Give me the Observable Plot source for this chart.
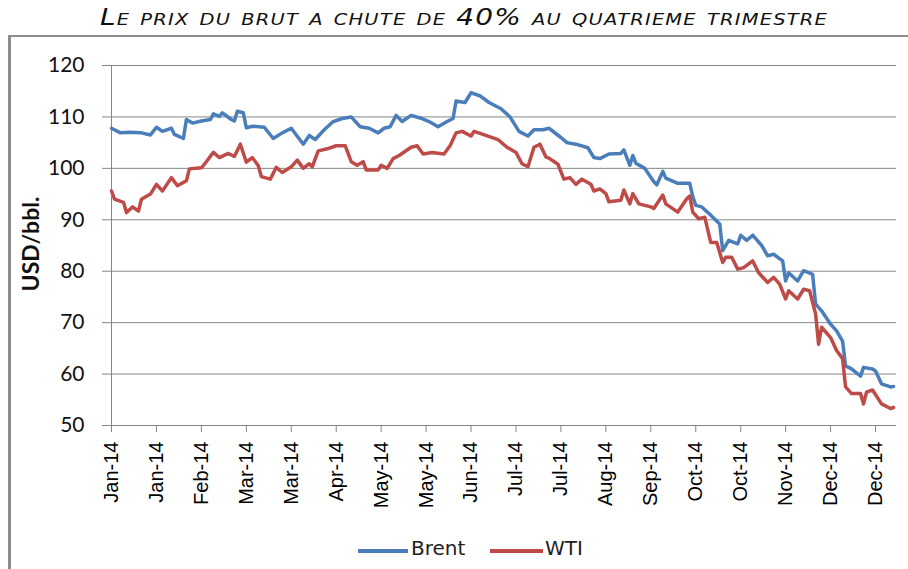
<!DOCTYPE html>
<html><head><meta charset="utf-8">
<script src="https://cdn.jsdelivr.net/npm/d3@7"></script>
<script src="https://cdn.jsdelivr.net/npm/@observablehq/plot@0.6"></script>
<style>
body{margin:0;background:#fff;}
#wrap{position:relative;width:908px;height:569px;overflow:hidden;background:#fff;}
#frame{position:absolute;left:8px;top:35px;width:1000px;height:1000px;border-left:3px solid #8c8c8c;border-top:2px solid #8c8c8c;}
#chart{position:absolute;left:0;top:0;}
#title{position:absolute;left:100px;top:4px;font-family:"DejaVu Sans";font-style:italic;font-variant:small-caps;font-size:23px;letter-spacing:1px;color:#111;white-space:nowrap;transform-origin:0 0;}
#ylab{position:absolute;left:30px;top:244px;transform:translate(-50%,-50%) rotate(-90deg);font-family:Lato;font-weight:bold;font-size:23px;color:#111;white-space:nowrap;}
.lg{position:absolute;font-family:"DejaVu Sans";font-size:20px;color:#222;top:536px;}
.sw{position:absolute;height:4px;top:549px;}
</style>
</head><body>
<div id="wrap">
  <div id="frame"></div>
  <div id="chart"></div>
  <div id="title">Le prix du brut a chute de 40% au quatrieme trimestre</div>
  <div id="ylab">USD/bbl.</div>
  <div class="sw" style="left:358px;width:50px;background:#4a7ebb"></div>
  <div class="lg" style="left:411px">Brent</div>
  <div class="sw" style="left:490px;width:53px;background:#be4b48"></div>
  <div class="lg" style="left:545px">WTI</div>
</div>
<script>
// trading-day index (category position) and price
const brentDay = [0,3,6,10,13,15,17,20,21,24,25,27,30,33,34,36,37,40,41,42,44,45,47,51,54,57,60,64,66,68,71,74,77,80,83,86,89,91,93,95,97,100,103,106,109,112,114,115,118,120,123,126,130,133,136,139,141,144,146,150,152,155,159,161,163,166,170,171,173,174,175,178,181,182,184,185,189,193,194,195,197,200,203,204,206,209,210,212,214,217,219,221,224,225,226,229,231,234,235,237,240,242,244,245,247,250,251,254,255,257,260,261];
const brentPrice = [107.8,106.9,107.0,106.9,106.5,108.0,107.2,107.8,106.6,105.8,109.5,108.8,109.2,109.5,110.6,110.1,110.8,109.5,109.2,111.1,110.8,107.9,108.2,108.0,105.8,106.9,107.8,104.7,106.4,105.6,107.5,109.1,109.7,110.0,108.1,107.8,106.9,107.8,108.1,110.3,109.1,110.3,109.8,109.1,108.1,109.1,109.7,113.1,112.8,114.7,114.1,112.8,111.6,110.0,107.2,106.3,107.5,107.5,107.8,106.0,105.0,104.7,104.0,102.1,101.9,102.8,102.9,103.6,100.6,102.5,101.0,100.0,97.4,96.8,99.4,98.1,97.1,97.1,94.5,92.8,92.5,90.9,89.2,84.0,86.0,85.3,87.0,86.0,87.0,85.0,83.0,83.3,82.0,78.1,79.7,78.1,80.1,79.4,73.6,72.3,69.7,68.4,66.4,61.6,61.0,59.6,61.3,61.0,60.6,58.1,57.5,57.6];
const wtiDay = [0,1,4,5,7,9,10,13,15,17,20,22,25,26,30,31,34,36,39,41,43,45,47,49,50,53,55,57,60,62,64,66,67,69,72,75,78,80,82,84,85,89,90,92,94,96,100,102,104,107,111,113,115,117,120,121,124,129,132,135,137,139,141,143,145,146,149,151,153,155,157,160,161,163,165,166,170,171,173,174,176,180,181,184,185,189,192,193,194,196,198,200,202,204,205,207,209,211,214,216,219,221,223,225,226,229,231,233,235,236,237,240,242,244,245,247,250,251,252,254,257,260,261];
const wtiPrice = [95.6,94.0,93.4,91.4,92.5,91.7,94.0,95.0,96.9,95.6,98.2,96.6,97.6,99.9,100.1,100.8,103.1,102.1,102.9,102.3,104.7,101.2,102.1,100.5,98.4,97.9,100.2,99.2,100.3,101.6,100.0,100.9,100.3,103.4,103.8,104.4,104.4,101.3,100.6,101.3,99.7,99.7,100.6,100.0,101.9,102.5,104.1,104.4,102.8,103.1,102.8,104.4,106.9,107.2,106.3,107.2,106.6,105.6,104.1,103.1,100.9,100.3,104.1,104.7,102.2,102.0,100.8,97.9,98.2,96.9,97.9,96.9,95.6,96.0,95.1,93.5,93.8,95.8,93.1,95.1,93.1,92.5,92.2,94.8,93.1,91.5,94.1,94.6,91.5,90.2,90.5,85.6,85.6,81.7,82.7,82.7,80.4,80.7,82.0,79.7,77.8,78.8,77.5,74.6,76.2,74.6,76.5,76.2,71.7,65.8,69.1,67.1,64.6,63.0,57.5,56.2,56.2,54.2,56.5,56.9,54.2,53.3,53.5];
const tickPos = [0,15,30,45,60,75,90,105,120,135,150,165,180,195,210,225,240,255];
const tickLabels = ["Jan-14","Jan-14","Feb-14","Mar-14","Mar-14","Apr-14","May-14","May-14","Jun-14","Jul-14","Jul-14","Aug-14","Sep-14","Oct-14","Oct-14","Nov-14","Dec-14","Dec-14"];
const yTicks = [50,60,70,80,90,100,110,120];

const brent = brentDay.map((d,i)=>({day:d, price:brentPrice[i]}));
const wti = wtiDay.map((d,i)=>({day:d, price:wtiPrice[i]}));

const chart = Plot.plot({
  width:908, height:569,
  marginLeft:111, marginRight:12, marginTop:65, marginBottom:144,
  style:{background:"transparent", overflow:"visible"},
  x:{domain:[0,262]},
  y:{domain:[50,120]},
  marks:[
    Plot.gridY(yTicks,{stroke:"#868686", strokeOpacity:1, strokeWidth:1}),
    Plot.axisY({ticks:yTicks, tickSize:9, tickPadding:18, stroke:"#868686", fill:"#111", fontSize:21, fontFamily:"Lato", label:null}),
    Plot.axisX({ticks:tickPos, tickFormat:d=>tickLabels[tickPos.indexOf(d)], tickRotate:-90, tickSize:7, tickPadding:9, stroke:"#868686", fill:"#000", fontSize:20, fontFamily:"Liberation Sans", label:null}),
    Plot.ruleX([0],{stroke:"#868686"}),
    Plot.ruleY([50],{stroke:"#868686"}),
    Plot.line(brent,{x:"day", y:"price", stroke:"#4a7ebb", strokeWidth:3.5}),
    Plot.line(wti,{x:"day", y:"price", stroke:"#be4b48", strokeWidth:3.5})
  ]
});
document.getElementById("chart").appendChild(chart);

// stretch the title to the reference's width (x 100 .. 828)
const t = document.getElementById("title");
const w0 = t.getBoundingClientRect().width;
t.style.transform = "scaleX(" + (728 / w0) + ")";
</script>
</body></html>
